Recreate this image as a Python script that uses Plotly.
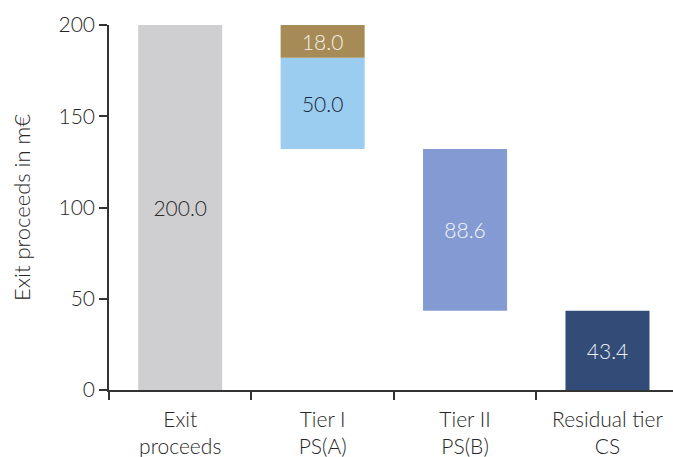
import plotly.graph_objects as go

categories = ["Exit<br>proceeds", "Tier I<br>PS(A)", "Tier II<br>PS(B)", "Residual tier<br>CS"]
exit_total = 200.0
tier1_a = 50.0
tier1_b = 18.0
tier2 = 88.6
residual = 43.4
y_ticks = [0, 50, 100, 150, 200]

FONT = "Source Sans Pro, Lato, Open Sans, sans-serif"
TXT = "#262626"

segments = [
    # (category index, value, base, color, text color)
    (0, exit_total, 0.0, "#cfcfd1", "#2b2b2b"),
    (1, tier1_a, exit_total - tier1_b - tier1_a, "#9acdef", "#1b2636"),
    (1, tier1_b, exit_total - tier1_b, "#a68b56", "#f4f1ea"),
    (2, tier2, residual, "#839bd2", "#f4f6fc"),
    (3, residual, 0.0, "#324c77", "#eef1f7"),
]

fig = go.Figure()
for idx, val, base, color, tcolor in segments:
    fig.add_trace(go.Bar(
        x=[categories[idx]], y=[val], base=[base],
        marker=dict(color=color, line=dict(width=0)),
        width=0.59,
        text=[f"{val:.1f}"], textposition="inside", insidetextanchor="middle",
        textangle=0, constraintext="none",
        textfont=dict(family=FONT, size=21, color=tcolor, weight=300),
        showlegend=False, hoverinfo="skip",
    ))

fig.update_layout(
    width=673, height=457,
    margin=dict(l=109, r=0, t=25, b=67),
    barmode="overlay",
    plot_bgcolor="white", paper_bgcolor="white",
    font=dict(family=FONT, size=21, color=TXT, weight=300),
    xaxis=dict(
        type="category", categoryorder="array", categoryarray=categories,
        range=[-0.5, 3.46],
        showline=True, linecolor="#333333", linewidth=1.5,
        ticks="outside", tickson="boundaries", ticklen=8, tickcolor="#333333", tickwidth=1.5,
        ticklabelstandoff=10,
        tickfont=dict(family=FONT, size=21, color=TXT, weight=300),
        showgrid=False, zeroline=False,
    ),
    yaxis=dict(
        range=[0, 200], tickvals=y_ticks,
        showline=True, linecolor="#333333", linewidth=1.5,
        ticks="outside", ticklen=8, tickcolor="#333333", tickwidth=1.5,
        tickfont=dict(family=FONT, size=21, color=TXT, weight=300),
        showgrid=False, zeroline=False,
        title=dict(text="Exit proceeds in m€", standoff=22,
                   font=dict(family=FONT, size=22, color=TXT, weight=300)),
    ),
)

fig.write_html("out.html")
